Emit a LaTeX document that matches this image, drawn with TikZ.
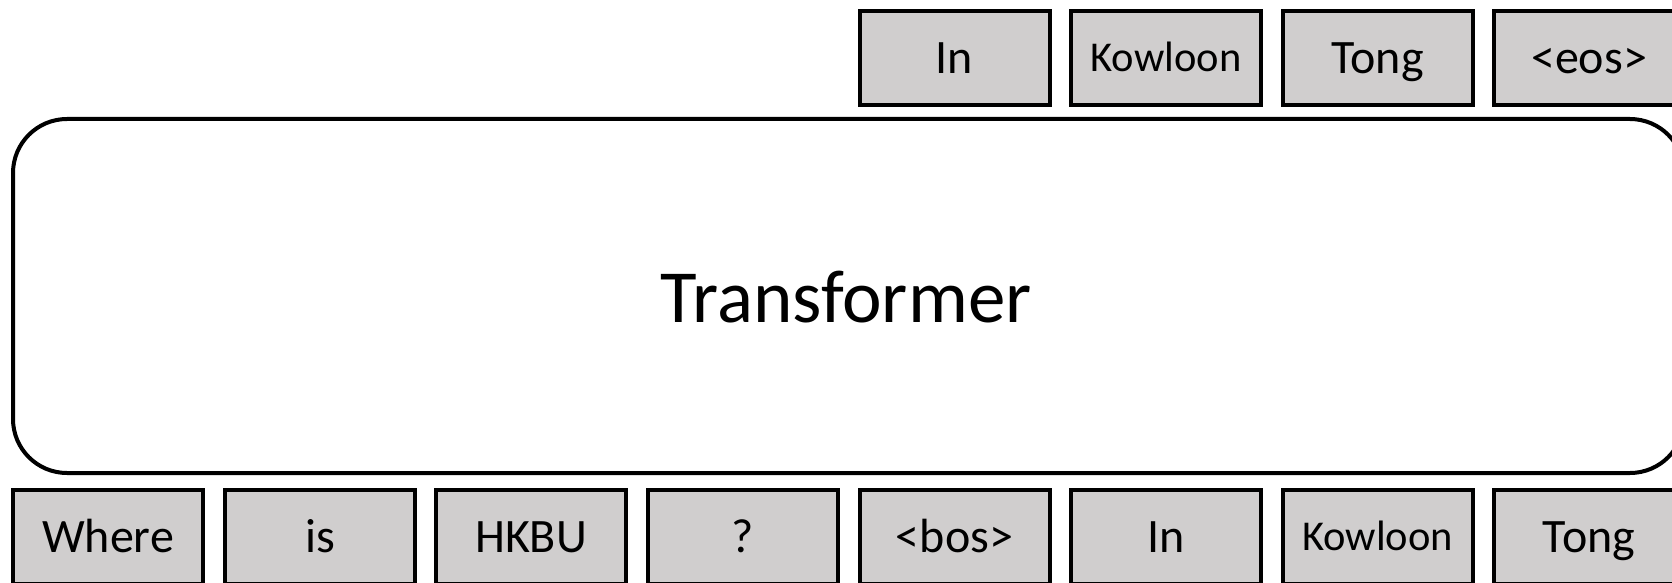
\documentclass[tikz,border=0pt]{standalone}
\usepackage{fontspec}
\setmainfont{Carlito}
\definecolor{tokfill}{HTML}{D0CECE}
\begin{document}
\begin{tikzpicture}[x=1pt,y=-1pt,
  tokbox/.style={draw=black, line width=4pt, fill=tokfill, minimum width=190pt,
    minimum height=94pt, inner sep=0pt, text height=30.9pt, text depth=0pt,
    font=\fontsize{48}{52}\selectfont},
  small/.style={font=\fontsize{42.5}{46}\selectfont, text height=27.4pt},
  model/.style={draw=black, line width=4pt, rounded corners=54pt, fill=white}]
\useasboundingbox (0,0) rectangle (1672,583);
% the model block, running past the right edge
\draw[model] (13,119) rectangle (1684,473);
\node[font=\fontsize{75}{80}\selectfont, inner sep=0pt, text height=48.3pt,
  text depth=0pt] (tf) at (846,298) {Transformer};
% decoder outputs (top row)
\node[tokbox] (o1) at (954.5,58) {In};
\node[tokbox,small] (o2) at (1166,58) {Kowloon};
\node[tokbox] (o3) at (1377.5,58) {Tong};
\node[tokbox] (o4) at (1589,58) {<eos>};
% inputs (bottom row)
\node[tokbox] (i1) at (108,537) {Where};
\node[tokbox] (i2) at (320,537) {is};
\node[tokbox] (i3) at (531,537) {HKBU};
\node[tokbox] (i4) at (743,537) {?};
\node[tokbox] (i5) at (954.5,537) {<bos>};
\node[tokbox] (i6) at (1166,537) {In};
\node[tokbox,small] (i7) at (1377.5,537) {Kowloon};
\node[tokbox] (i8) at (1589,537) {Tong};
\end{tikzpicture}
\end{document}
